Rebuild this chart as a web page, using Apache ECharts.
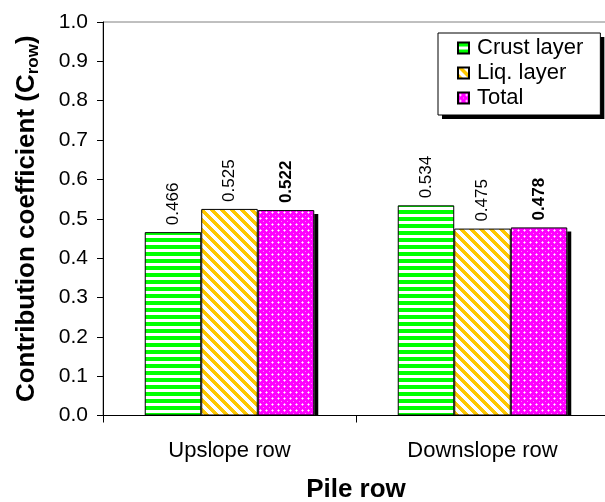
<!DOCTYPE html>
<html>
<head>
<meta charset="utf-8">
<script src="https://cdn.jsdelivr.net/npm/echarts@6/dist/echarts.min.js"></script>
<style>html,body{margin:0;padding:0;background:#fff;}#c{width:605px;height:502px;}</style>
</head>
<body>
<div id="c"></div>
<script>
var categories = ['Upslope row', 'Downslope row'];
var seriesNames = ['Crust layer', 'Liq. layer', 'Total'];
var crustValues = [0.466, 0.534];
var liqValues = [0.525, 0.475];
var totalValues = [0.522, 0.478];
var yTicks = [0.0, 0.1, 0.2, 0.3, 0.4, 0.5, 0.6, 0.7, 0.8, 0.9, 1.0];

function makePattern(w, h, painter) {
  var cv = document.createElement('canvas');
  cv.width = w; cv.height = h;
  var ctx = cv.getContext('2d');
  painter(ctx, w, h);
  return cv;
}
var greenPat = makePattern(8, 7, function (ctx, w, h) {
  ctx.fillStyle = '#ffffff'; ctx.fillRect(0, 0, w, h);
  ctx.fillStyle = '#00ff00'; ctx.fillRect(0, 0, w, 4);
});
var yellowPat = makePattern(10, 10, function (ctx, w, h) {
  for (var y = 0; y < h; y++) {
    for (var x = 0; x < w; x++) {
      var d = ((x - y) % 10 + 10) % 10;
      ctx.fillStyle = d < 5 ? '#ffc800' : '#ffffff';
      ctx.fillRect(x, y, 1, 1);
    }
  }
});
var magentaPat = makePattern(6, 6, function (ctx, w, h) {
  ctx.fillStyle = '#ff00ff'; ctx.fillRect(0, 0, w, h);
  ctx.fillStyle = '#ff99ff';
  ctx.fillRect(2, 1, 1, 3); ctx.fillRect(1, 2, 3, 1);
  ctx.fillStyle = '#ffffff'; ctx.fillRect(2, 2, 1, 1);
  ctx.fillStyle = '#ff80ff'; ctx.fillRect(5, 5, 1, 1);
});

var chart = echarts.init(document.getElementById('c'), null, {renderer: 'canvas'});
var font = 'Liberation Sans, Arial, sans-serif';
var CAT_GAP = 0.33;

function labelCfg(bold) {
  return {
    show: true, position: 'top', rotate: 90, align: 'left', verticalAlign: 'middle',
    distance: 7, fontFamily: font, fontSize: 17, color: '#000',
    fontWeight: bold ? 'bold' : 'normal',
    formatter: function (p) { return p.value.toFixed(3); }
  };
}

var legendBase = {
  data: seriesNames, orient: 'vertical', left: 438, top: 33,
  padding: [4, 17, 6, 19], itemGap: 3, itemWidth: 11, itemHeight: 11,
  icon: 'rect'
};
var legendBack = Object.assign({}, legendBase, {
  z: 4,
  backgroundColor: '#fff', borderWidth: 0,
  shadowColor: '#000', shadowBlur: 0, shadowOffsetX: 4, shadowOffsetY: 4,
  textStyle: {fontFamily: font, fontSize: 22, color: '#000', padding: [0, 0, 0, 3]}
});
var legendFront = Object.assign({}, legendBase, {
  z: 5,
  backgroundColor: 'transparent', borderColor: '#000', borderWidth: 1,
  itemStyle: {opacity: 0},
  textStyle: {fontFamily: font, fontSize: 22, color: 'rgba(0,0,0,0)', padding: [0, 0, 0, 3]}
});

var option = {
  animation: false,
  backgroundColor: '#fff',
  grid: {left: 103, top: 22, width: 506, height: 393.5, outerBoundsMode: 'none', containLabel: false,
    show: true, borderColor: '#808080', borderWidth: 1, backgroundColor: 'transparent'},
  legend: [legendBack, legendFront],
  xAxis: {
    type: 'category', data: categories,
    axisLine: {lineStyle: {color: '#000', width: 1}},
    axisTick: {show: true, length: 7, lineStyle: {color: '#000'}},
    axisLabel: {fontFamily: font, fontSize: 22, color: '#000', margin: 24},
    name: 'Pile row', nameLocation: 'middle', nameGap: 61,
    nameTextStyle: {fontFamily: font, fontSize: 26, fontWeight: 'bold', color: '#000'}
  },
  yAxis: {
    type: 'value', min: 0, max: 1, interval: 0.1,
    axisLine: {show: true, lineStyle: {color: '#000', width: 1}},
    axisTick: {show: true, length: 6, lineStyle: {color: '#000'}},
    splitLine: {show: false},
    axisLabel: {fontFamily: font, fontSize: 21, color: '#000', margin: 15,
      formatter: function (v) { return v.toFixed(1); }},
    name: '{a|Contribution coefficient (C}{b|row}{a|)}',
    nameLocation: 'middle', nameGap: 61,
    nameTextStyle: {
      rich: {
        a: {fontFamily: font, fontSize: 26, fontWeight: 'bold', color: '#000', lineHeight: 30},
        b: {fontFamily: font, fontSize: 17, fontWeight: 'bold', color: '#000', lineHeight: 17, verticalAlign: 'bottom'}
      }
    }
  },
  series: [
    {name: seriesNames[0], type: 'bar', data: crustValues, barGap: '0%', barCategoryGap: (CAT_GAP * 100) + '%', z: 3,
      itemStyle: {color: {image: greenPat, repeat: 'repeat'}, borderColor: '#000', borderWidth: 1},
      label: labelCfg(false)},
    {name: seriesNames[1], type: 'bar', data: liqValues, barGap: '0%', barCategoryGap: (CAT_GAP * 100) + '%', z: 3,
      itemStyle: {color: {image: yellowPat, repeat: 'repeat'}, borderColor: '#000', borderWidth: 1},
      label: labelCfg(false)},
    {name: seriesNames[2], type: 'bar', data: totalValues, barGap: '0%', barCategoryGap: (CAT_GAP * 100) + '%', z: 3,
      itemStyle: {color: {image: magentaPat, repeat: 'repeat'}, borderColor: '#000', borderWidth: 1},
      label: labelCfg(true)},
    {
      name: 'Total shadow', type: 'custom', z: 2, silent: true,
      data: totalValues.map(function (v, i) { return [i, v]; }),
      renderItem: function (params, api) {
        var idx = api.value(0), v = api.value(1);
        var base = api.coord([idx, 0]);
        var top = api.coord([idx, v]);
        var band = api.size([1, 0])[0];
        var bw = band * (1 - CAT_GAP) / 3;
        var right = base[0] + 1.5 * bw;
        return {
          type: 'rect',
          shape: {x: right, y: top[1] + 4, width: 4, height: base[1] - top[1] - 4},
          style: {fill: '#000'}
        };
      }
    }
  ]
};
chart.setOption(option);
</script>
</body>
</html>
